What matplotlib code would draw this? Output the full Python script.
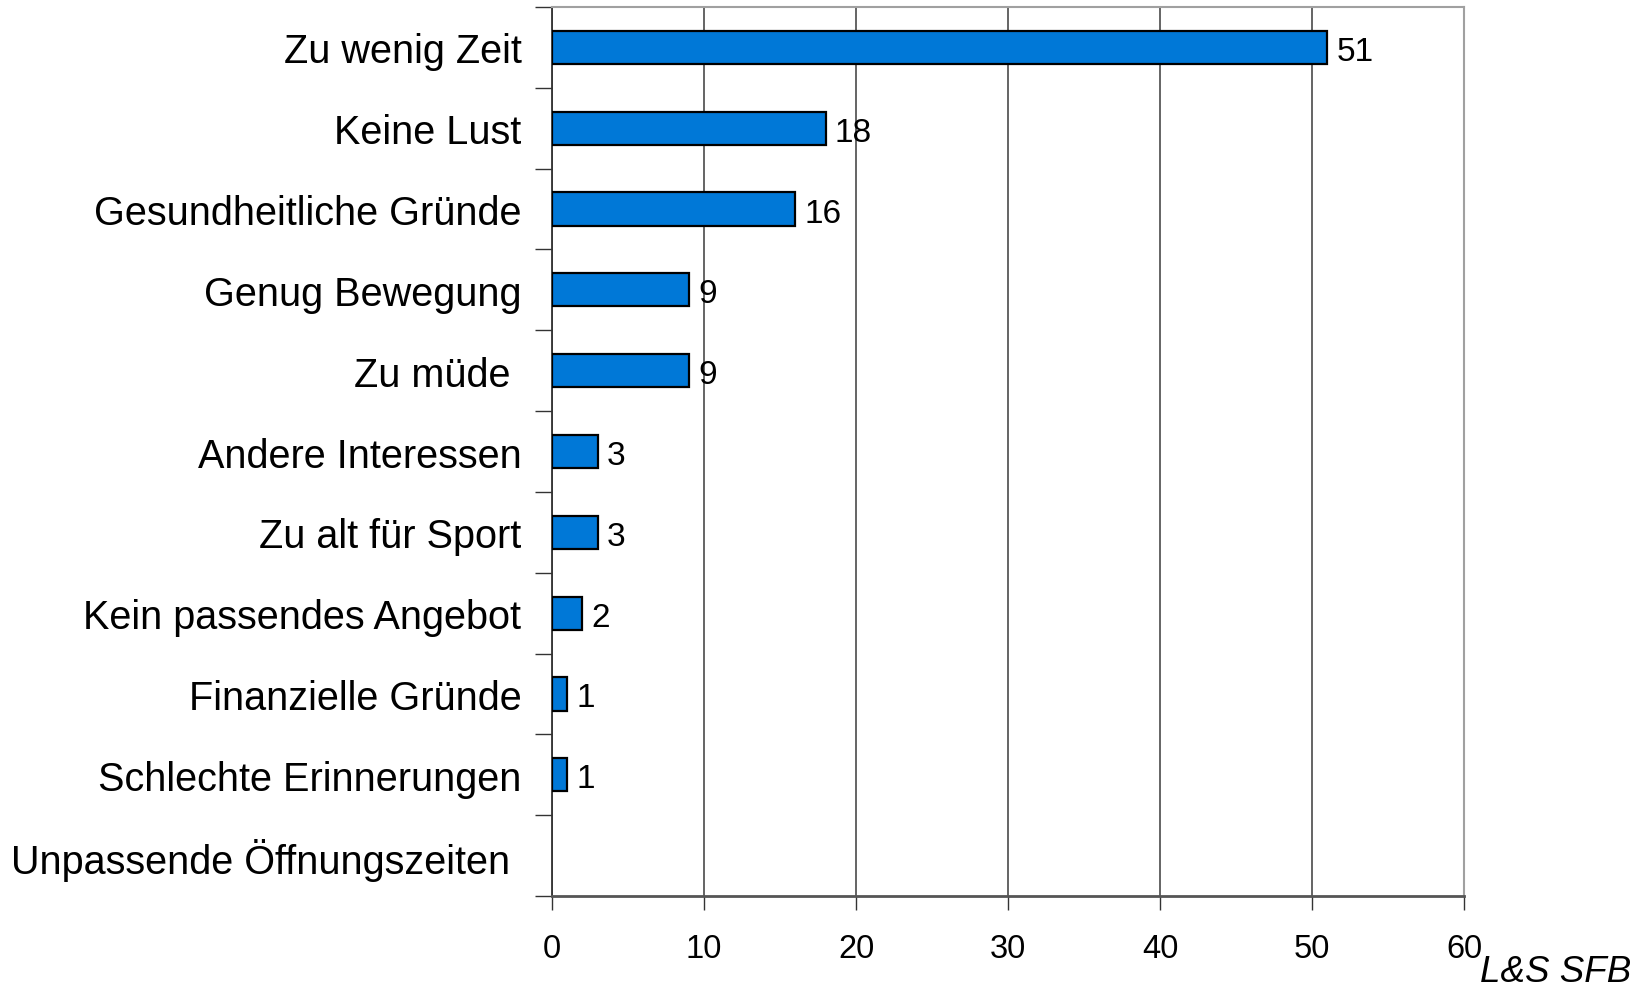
import matplotlib
matplotlib.use("Agg")
import matplotlib.pyplot as plt
import numpy as np

categories = ["Zu wenig Zeit", "Keine Lust", "Gesundheitliche Gründe", "Genug Bewegung",
              "Zu müde ", "Andere Interessen", "Zu alt für Sport", "Kein passendes Angebot",
              "Finanzielle Gründe", "Schlechte Erinnerungen", "Unpassende Öffnungszeiten "]
values = [51, 18, 16, 9, 9, 3, 3, 2, 1, 1, None]
xticks = [0, 10, 20, 30, 40, 50, 60]
source = "L&S SFB"

plt.rcParams['font.family'] = ['Liberation Sans', 'DejaVu Sans']

fig = plt.figure(figsize=(16.47, 9.87), dpi=100)
ax = fig.add_axes([552/1647, 1-897/987, (1464-552)/1647, (897-8)/987])

n = len(categories)
ypos = np.arange(n)
for y, v in zip(ypos, values):
    if v is None:
        continue
    ax.barh(y, v, height=0.41, color='#0078D7', edgecolor='black', linewidth=1.6, zorder=3)
    ax.text(v + 0.6, y + 0.05, str(v), ha='left', va='center', fontsize=24, zorder=4)

ax.set_ylim(n - 0.5, -0.5)
ax.set_xlim(0, 60)

ax.set_yticks(np.arange(-0.5, n, 1.0))
ax.set_yticklabels([])
ax.set_yticks(ypos, minor=True)
ax.set_yticklabels(categories, minor=True, fontsize=28.5)
ax.tick_params(axis='y', which='major', length=12, width=1, color='#333333', direction='out')
ax.tick_params(axis='y', which='minor', length=0, pad=22)

ax.set_xticks(xticks)
ax.set_xticklabels([str(t) for t in xticks], fontsize=23.5)
ax.tick_params(axis='x', length=10, width=1, color='#333333', direction='out', pad=17)

ax.grid(axis='x', color='#3a3a3a', linewidth=1.1, zorder=0)
ax.set_axisbelow(True)

for side in ['top', 'right']:
    ax.spines[side].set_color('#a0a0a0')
    ax.spines[side].set_linewidth(1.5)
ax.spines['left'].set_color('#333333')
ax.spines['left'].set_linewidth(1.3)
ax.spines['bottom'].set_color('#555555')
ax.spines['bottom'].set_linewidth(2)

fig.text(1480/1647, 1-982/987, source, ha='left', va='baseline', fontsize=26.5, style='italic')

fig.savefig("out.png", dpi=100)
